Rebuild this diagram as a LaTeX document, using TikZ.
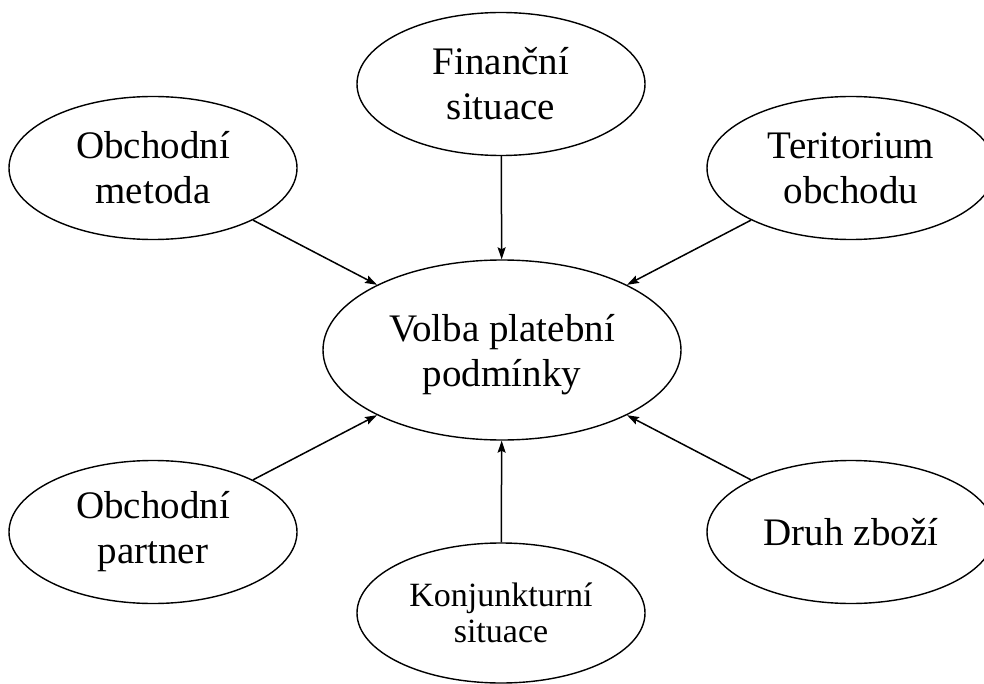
\documentclass[tikz,border=0pt]{standalone}
\usepackage{fontspec}
\setmainfont{Liberation Serif}
\usetikzlibrary{shapes.geometric,arrows.meta}
\begin{document}
\begin{tikzpicture}[x=1pt,y=-1pt,
  factor/.style={ellipse,draw,line width=1.4pt,inner sep=0pt,align=center,
    minimum width=288pt,minimum height=143pt,
    font=\fontsize{39}{45}\selectfont},
  smallfactor/.style={factor,font=\fontsize{34}{36}\selectfont},
  hub/.style={factor,minimum width=358pt,minimum height=180pt,text depth=0pt},
  link/.style={line width=1.5pt,-{Stealth[length=12pt,width=8pt,inset=2pt]}}]
  \clip (0,0) rectangle (984,684);
  \useasboundingbox (0,0) rectangle (984,684);

  % central decision
  \node[hub] (volba) at (502,350) {Volba platební\\podmínky};

  % influencing factors
  \node[factor] (fin) at (501,84) {Finanční\\situace};
  \node[factor] (met) at (153,168) {Obchodní\\metoda};
  \node[factor] (ter) at (851,168) {Teritorium\\obchodu};
  \node[factor] (par) at (153,532) {Obchodní\\partner};
  \node[factor] (druh) at (851,532) {Druh zboží};
  \node[smallfactor,minimum height=140pt] (kon) at (501,613) {Konjunkturní\\situace};

  % arrows into the central node
  \draw[link] (fin) -- (volba);
  \draw[link] (met) -- (volba);
  \draw[link] (ter) -- (volba);
  \draw[link] (par) -- (volba);
  \draw[link] (druh) -- (volba);
  \draw[link] (kon) -- (volba);
\end{tikzpicture}
\end{document}
